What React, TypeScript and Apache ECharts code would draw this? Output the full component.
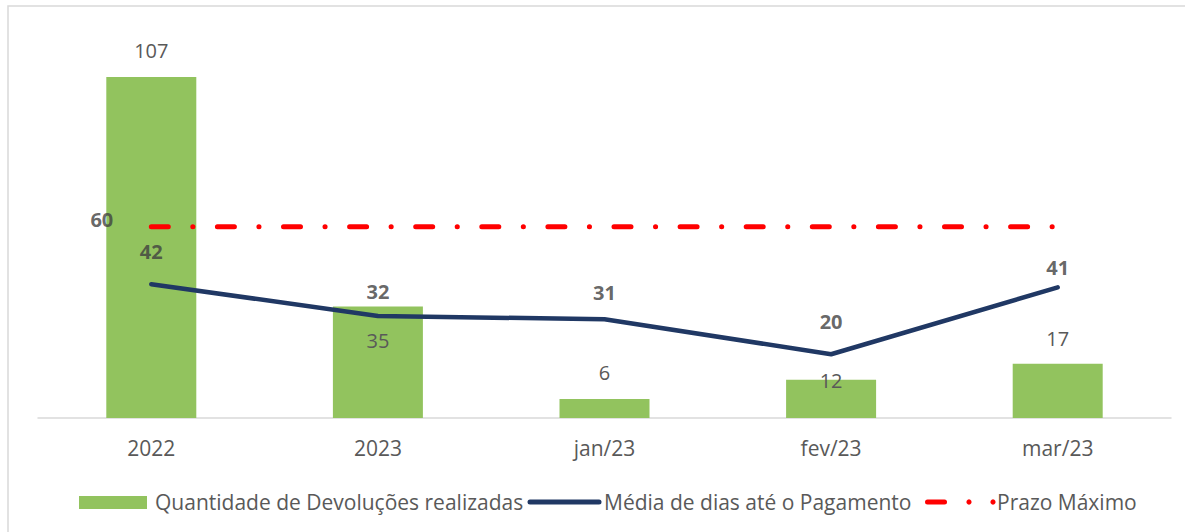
import React, { useEffect, useRef } from "react";
import * as echarts from "echarts";

const categories = ["2022", "2023", "jan/23", "fev/23", "mar/23"];
const devolucoes = [107, 35, 6, 12, 17];
const mediaDias = [42, 32, 31, 20, 41];
const prazoMaximo = [60, 60, 60, 60, 60];

const seriesNames = ["Quantidade de Devoluções realizadas", "Média de dias até o Pagamento", "Prazo Máximo"];

const barLabelOffsets = [-15, 46, -14, 13, -13];
const lineLabelOffsets = [-21, -13, -15, -21, -8];

const FONT = "'Open Sans', sans-serif";
const GREEN = "#92C35E";
const NAVY = "#203864";
const RED = "#ff0000";
const GREY_TEXT = "#595959";

export default function App() {
  const ref = useRef<HTMLDivElement>(null);
  useEffect(() => {
    const chart = echarts.init(ref.current!, null, { renderer: "svg" });
    const ly = 502;
    const legendText = (x: number, t: string) => ({
      type: "text",
      x,
      y: ly,
      style: { text: t, fill: GREY_TEXT, font: `21px ${FONT}`, textVerticalAlign: "middle", verticalAlign: "middle" },
      silent: true,
    });
    chart.setOption({
      animation: false,
      backgroundColor: "#ffffff",
      textStyle: { fontFamily: FONT },
      grid: { left: 38, right: 14, top: 35.6, bottom: 114, containLabel: false },
      xAxis: {
        type: "category",
        data: categories,
        axisLine: { lineStyle: { color: "#d9d9d9", width: 1.5 } },
        axisTick: { length: 10, lineStyle: { color: "#d9d9d9", width: 1.5 } },
        axisLabel: { fontFamily: FONT, fontSize: 21, color: GREY_TEXT, margin: 19 },
      },
      yAxis: {
        type: "value",
        min: 0,
        max: 120,
        show: false,
        splitLine: { show: false },
      },
      graphic: [
        {
          type: "rect",
          shape: { x: 8, y: 6, width: 1300, height: 700 },
          style: { fill: "none", stroke: "#d9d9d9", lineWidth: 1.5 },
          silent: true,
        },
        {
          type: "rect",
          shape: { x: 79, y: 496, width: 68, height: 13 },
          style: { fill: GREEN },
          silent: true,
        },
        legendText(155, seriesNames[0]),
        {
          type: "line",
          shape: { x1: 530, y1: ly, x2: 599, y2: ly },
          style: { stroke: NAVY, lineWidth: 5, lineCap: "round" },
          silent: true,
        },
        legendText(604, seriesNames[1]),
        {
          type: "line",
          shape: { x1: 927.5, y1: ly, x2: 944.5, y2: ly },
          style: { stroke: RED, lineWidth: 5, lineCap: "round" },
          silent: true,
        },
        { type: "circle", shape: { cx: 969, cy: ly, r: 2.6 }, style: { fill: RED }, silent: true },
        { type: "circle", shape: { cx: 993, cy: ly, r: 2.6 }, style: { fill: RED }, silent: true },
        legendText(997, seriesNames[2]),
      ],
      series: [
        {
          name: seriesNames[0],
          type: "bar",
          barWidth: 90,
          itemStyle: { color: GREEN },
          data: devolucoes.map((v, i) => ({
            value: v,
            label: { offset: [0, barLabelOffsets[i]] },
          })),
          label: {
            show: true,
            position: "top",
            distance: 0,
            lineHeight: 24,
            fontFamily: FONT,
            fontSize: 20,
            color: GREY_TEXT,
          },
          z: 1,
        },
        {
          name: seriesNames[1],
          type: "line",
          data: mediaDias,
          symbol: "none",
          lineStyle: { color: NAVY, width: 4.5, cap: "round", join: "round" },
          itemStyle: { color: NAVY },
          z: 3,
        },
        {
          name: seriesNames[2],
          type: "line",
          data: prazoMaximo,
          symbol: "none",
          lineStyle: { color: RED, width: 5, type: [17, 24.5, 0.1, 24.5], cap: "round" },
          itemStyle: { color: RED },
          z: 2,
        },
        {
          name: "mediaLabels",
          type: "scatter",
          data: mediaDias.map((v, i) => ({
            value: v,
            label: { offset: [0, lineLabelOffsets[i]] },
          })),
          symbolSize: 0,
          silent: true,
          label: {
            show: true,
            position: "top",
            distance: 0,
            lineHeight: 24,
            fontFamily: FONT,
            fontSize: 20,
            fontWeight: "bold",
            color: "#404040",
          },
          z: 4,
        },
        {
          name: "prazoLabel",
          type: "scatter",
          data: prazoMaximo.map((v, i) =>
            i === 0
              ? { value: v, label: { show: true } }
              : { value: v, label: { show: false } }
          ),
          symbolSize: 0,
          silent: true,
          label: {
            position: "left",
            distance: 38,
            offset: [0, -7],
            fontFamily: FONT,
            fontSize: 20,
            fontWeight: "bold",
            color: "#404040",
          },
          z: 4,
        },
      ],
    });
    return () => chart.dispose();
  }, []);
  return <div ref={ref} style={{ width: 1185, height: 532, position: "absolute", left: 0, top: 0 }} />;
}
